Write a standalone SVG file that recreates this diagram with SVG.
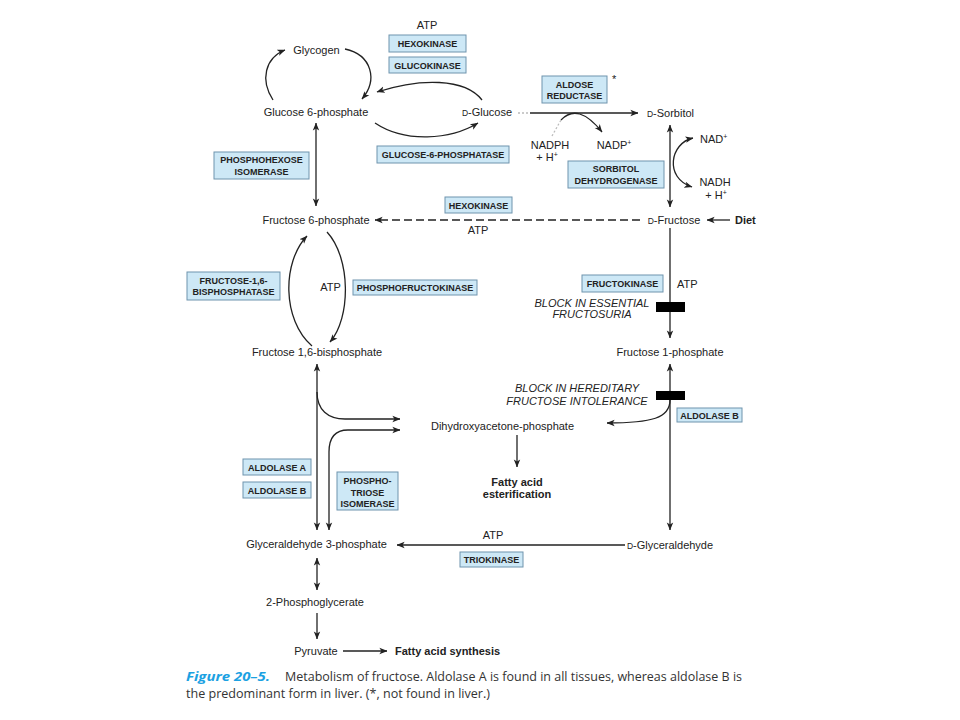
<svg xmlns="http://www.w3.org/2000/svg" width="960" height="720" viewBox="0 0 960 720">
<defs>
<style>
text{font-family:"Liberation Sans",Arial,sans-serif;fill:#222;}
.t{font-size:11px;}
.c{text-anchor:middle;}
.b{font-weight:bold;}
.bx rect{fill:#cde8f6;stroke:#6f94ad;stroke-width:1;}
.bx text{font-size:9px;font-weight:bold;text-anchor:middle;}
.it{font-size:11px;font-style:italic;text-anchor:middle;}
.sc{font-size:8.5px;}
.ln{fill:none;stroke:#222;stroke-width:1.3;}
.e{marker-end:url(#ah);}
.s{marker-start:url(#ah);}
.cap{font-family:"Open Sans","Liberation Sans",sans-serif;font-size:12.5px;fill:#333;}
</style>
<marker id="ah" viewBox="0 0 10 10" refX="9.5" refY="5" markerWidth="8" markerHeight="8" orient="auto-start-reverse" markerUnits="userSpaceOnUse">
<path d="M0,1 L10,5 L0,9 L2.5,5 z" fill="#222"/>
</marker>
</defs>
<rect width="960" height="720" fill="#fff"/>

<g id="connectors">
<path class="ln s e" d="M316,206 L316,123"/>
<path class="ln e" d="M273,100 C260,80 265,58 285,50"/>
<path class="ln e" d="M345,49 C372,55 378,80 362,99"/>
<path class="ln e" d="M482,100 C465,78 420,78 377,92"/>
<path class="ln e" d="M375,123 C405,143 450,140 478,123"/>
<path d="M518,113 L530,113" fill="none" stroke="#bbb" stroke-width="1.3" stroke-dasharray="2 2"/>
<path class="ln e" d="M530,113 L638,113"/>
<path d="M552,136 L561,120" fill="none" stroke="#bbb" stroke-width="1.3" stroke-dasharray="2 2"/>
<path class="ln e" d="M561,120 Q578,102 602,132"/>
<path class="ln s e" d="M670,125 L670,207"/>
<path class="ln s e" d="M693,138 C670,143 664,178 692,187"/>
<path class="ln e" d="M730,220 L707,220"/>
<path class="ln e" d="M640,220 L375,220" stroke-dasharray="8 4"/>
<path class="ln e" d="M312,346 C282,320 282,262 307,236"/>
<path class="ln e" d="M327,232 C351,258 351,318 330,342"/>
<path class="ln e" d="M670,228 L670,338"/>
<path class="ln s e" d="M670,364 L670,530"/>
<path class="ln e" d="M670,400 C670,418 652,423 607,423"/>
<path class="ln e" d="M517,435 L517,467"/>
<path class="ln s e" d="M317,364 L317,530"/>
<path class="ln e" d="M317,392 C317,410 328,419 345,419 L400,419"/>
<path class="ln s e" d="M329,530 L329,452 C329,438 335,430 348,430 L400,430"/>
<path class="ln e" d="M625,545 L397,545"/>
<path class="ln s e" d="M317,558 L317,590"/>
<path class="ln e" d="M317,613 L317,639"/>
<path class="ln e" d="M343,651 L387,651"/>
</g>

<g id="atp-top"><text class="t c" x="427" y="29">ATP</text></g>
<g id="hexokinase1" class="bx"><rect x="389" y="35" width="77" height="17"/><text x="427.5" y="47">HEXOKINASE</text></g>
<g id="glucokinase" class="bx"><rect x="389" y="57" width="77" height="16"/><text x="427.5" y="68.5">GLUCOKINASE</text></g>
<g id="glycogen"><text class="t c" x="316.5" y="54">Glycogen</text></g>
<g id="glucose6p"><text class="t c" x="316" y="116">Glucose 6-phosphate</text></g>
<g id="dglucose"><text class="t c" x="487" y="116"><tspan class="sc">D</tspan>-Glucose</text></g>
<g id="g6pase" class="bx"><rect x="377" y="146" width="132" height="17"/><text x="443" y="158">GLUCOSE-6-PHOSPHATASE</text></g>
<g id="phi" class="bx"><rect x="214" y="152" width="95" height="27"/><text x="261.5" y="163">PHOSPHOHEXOSE</text><text x="261.5" y="174.5">ISOMERASE</text></g>
<g id="aldose-reductase" class="bx"><rect x="542" y="76" width="65" height="27"/><text x="574.5" y="88">ALDOSE</text><text x="574.5" y="99">REDUCTASE</text></g>
<g id="asterisk"><text class="t" x="612" y="83">*</text></g>
<g id="dsorbitol"><text class="t c" x="670.5" y="117"><tspan class="sc">D</tspan>-Sorbitol</text></g>
<g id="nadph"><text class="t c" x="550" y="149">NADPH</text><text class="t c" x="547" y="161">+ H<tspan font-size="7" dy="-4">+</tspan></text></g>
<g id="nadp"><text class="t c" x="614" y="149">NADP<tspan font-size="7" dy="-4">+</tspan></text></g>
<g id="sdh" class="bx"><rect x="568" y="161" width="96" height="27"/><text x="616" y="172">SORBITOL</text><text x="616" y="183.5">DEHYDROGENASE</text></g>
<g id="nad"><text class="t" x="700" y="143">NAD<tspan font-size="7" dy="-4">+</tspan></text></g>
<g id="nadh"><text class="t c" x="715" y="186">NADH</text><text class="t c" x="716" y="199">+ H<tspan font-size="7" dy="-4">+</tspan></text></g>
<g id="dfructose"><text class="t c" x="674" y="224"><tspan class="sc">D</tspan>-Fructose</text></g>
<g id="diet"><text class="t b" x="735" y="224">Diet</text></g>
<g id="hexokinase2" class="bx"><rect x="445" y="197" width="67" height="16"/><text x="478.5" y="208.5">HEXOKINASE</text></g>
<g id="atp-hk"><text class="t c" x="478" y="234">ATP</text></g>
<g id="fructose6p"><text class="t c" x="316" y="224">Fructose 6-phosphate</text></g>
<g id="fbpase" class="bx"><rect x="187" y="272" width="93" height="28"/><text x="233.5" y="283.5">FRUCTOSE-1,6-</text><text x="233.5" y="295">BISPHOSPHATASE</text></g>
<g id="atp-pfk"><text class="t c" x="330.5" y="291">ATP</text></g>
<g id="pfk" class="bx"><rect x="353" y="280" width="124" height="15"/><text x="415" y="290.8">PHOSPHOFRUCTOKINASE</text></g>
<g id="f16bp"><text class="t c" x="317" y="356">Fructose 1,6-bisphosphate</text></g>
<g id="fructokinase" class="bx"><rect x="582" y="275" width="81" height="17"/><text x="622.5" y="287">FRUCTOKINASE</text></g>
<g id="atp-fk"><text class="t" x="677" y="288">ATP</text></g>
<g id="block1"><rect x="656" y="302" width="29" height="10" fill="#000"/><text class="it" x="592" y="307">BLOCK IN ESSENTIAL</text><text class="it" x="592" y="318">FRUCTOSURIA</text></g>
<g id="f1p"><text class="t c" x="670" y="356">Fructose 1-phosphate</text></g>
<g id="block2"><rect x="656" y="391" width="29" height="9" fill="#000"/><text class="it" x="577" y="392">BLOCK IN HEREDITARY</text><text class="it" x="577" y="405">FRUCTOSE INTOLERANCE</text></g>
<g id="aldolaseb-right" class="bx"><rect x="677" y="408" width="65" height="14"/><text x="709.5" y="418.5">ALDOLASE B</text></g>
<g id="dhap"><text class="t c" x="502.5" y="430">Dihydroxyacetone-phosphate</text></g>
<g id="fa-ester"><text class="t c b" x="517" y="486">Fatty acid</text><text class="t c b" x="517" y="498">esterification</text></g>
<g id="aldolasea" class="bx"><rect x="243" y="459" width="68" height="16"/><text x="277" y="470.5">ALDOLASE A</text></g>
<g id="aldolaseb-left" class="bx"><rect x="243" y="482" width="68" height="16"/><text x="277" y="493.5">ALDOLASE B</text></g>
<g id="tpi" class="bx"><rect x="337" y="472" width="61" height="38"/><text x="367.5" y="484">PHOSPHO-</text><text x="367.5" y="495.5">TRIOSE</text><text x="367.5" y="507">ISOMERASE</text></g>
<g id="atp-tk"><text class="t c" x="493" y="539">ATP</text></g>
<g id="dglyceraldehyde"><text class="t c" x="670" y="549"><tspan class="sc">D</tspan>-Glyceraldehyde</text></g>
<g id="g3p"><text class="t c" x="316.5" y="548">Glyceraldehyde 3-phosphate</text></g>
<g id="triokinase" class="bx"><rect x="460" y="552" width="63" height="15"/><text x="491.5" y="562.8">TRIOKINASE</text></g>
<g id="pg2"><text class="t c" x="315" y="606">2-Phosphoglycerate</text></g>
<g id="pyruvate"><text class="t c" x="316" y="655">Pyruvate</text></g>
<g id="fa-synth"><text class="t b" x="395" y="655">Fatty acid synthesis</text></g>

<g id="caption">
<text class="cap" x="186" y="681" textLength="84" lengthAdjust="spacingAndGlyphs" style="fill:#1ba1e2;font-weight:bold;font-style:italic;">Figure 20–5.</text>
<text class="cap" x="285" y="681" textLength="457" lengthAdjust="spacingAndGlyphs">Metabolism of fructose. Aldolase A is found in all tissues, whereas aldolase B is</text>
<text class="cap" x="186" y="698" textLength="304" lengthAdjust="spacingAndGlyphs">the predominant form in liver. (*, not found in liver.)</text>
</g>
</svg>
